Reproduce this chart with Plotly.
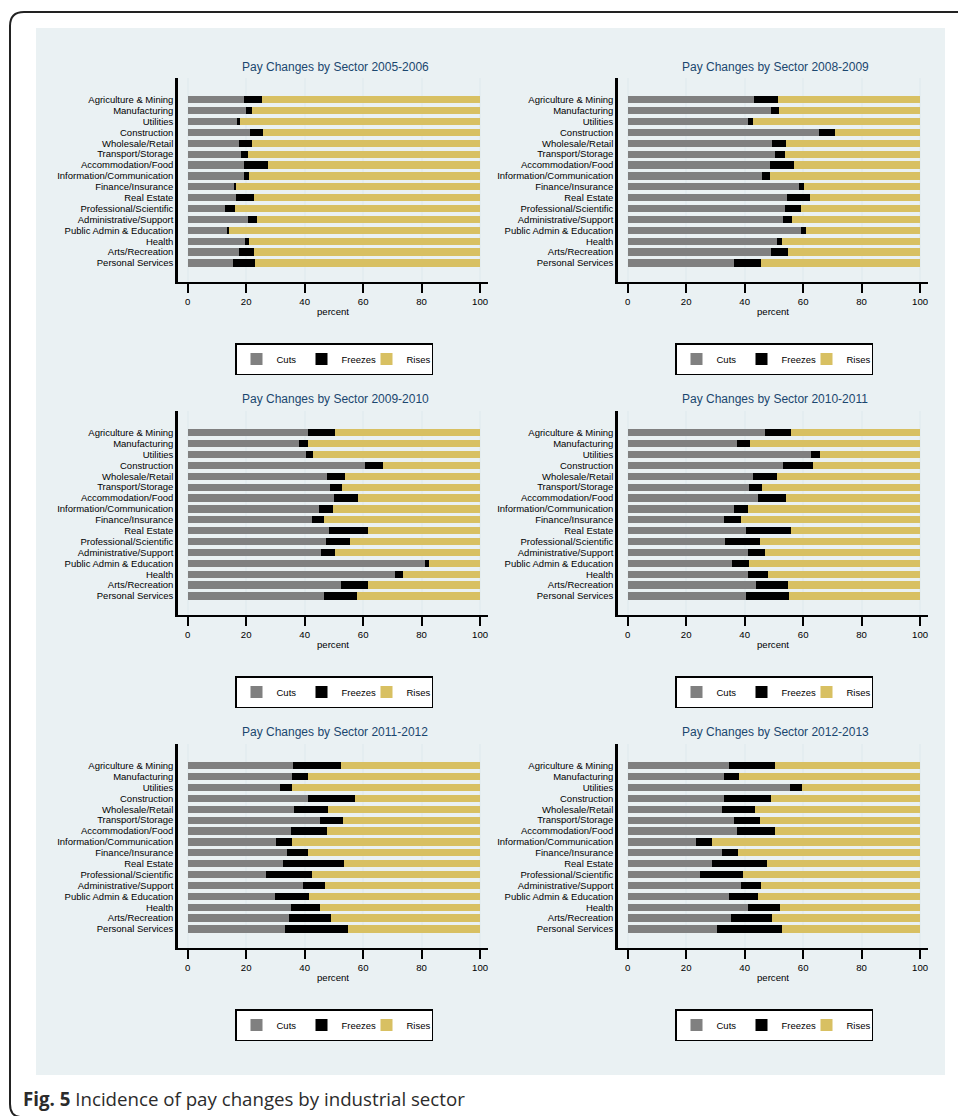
import plotly.graph_objects as go

sectors = ["Agriculture & Mining", "Manufacturing", "Utilities", "Construction",
           "Wholesale/Retail", "Transport/Storage", "Accommodation/Food",
           "Information/Communication", "Finance/Insurance", "Real Estate",
           "Professional/Scientific", "Administrative/Support",
           "Public Admin & Education", "Health", "Arts/Recreation", "Personal Services"]

periods = ["2005-2006", "2008-2009", "2009-2010", "2010-2011", "2011-2012", "2012-2013"]

cuts_2005_2006 = [19.3, 20.0, 16.8, 21.3, 17.6, 18.2, 19.3, 19.3, 15.8, 16.5, 12.8, 20.6, 13.5, 19.6, 17.6, 15.5]
freezes_2005_2006 = [6.1, 2.0, 1.1, 4.5, 4.3, 2.4, 8.2, 1.7, 0.7, 6.2, 3.4, 3.1, 0.6, 1.4, 5.1, 7.5]
rises_2005_2006 = [74.6, 78.0, 82.1, 74.2, 78.1, 79.4, 72.5, 79.0, 83.5, 77.3, 83.8, 76.3, 85.9, 79.0, 77.3, 77.0]

cuts_2008_2009 = [43.3, 49.1, 41.3, 65.5, 49.5, 50.5, 48.8, 46.1, 58.7, 54.6, 53.9, 53.2, 59.4, 50.9, 49.1, 36.5]
freezes_2008_2009 = [8.2, 2.8, 1.7, 5.5, 4.8, 3.4, 8.2, 2.7, 1.7, 7.9, 5.5, 3.1, 1.7, 2.0, 5.8, 9.2]
rises_2008_2009 = [48.5, 48.1, 57.0, 29.0, 45.7, 46.1, 43.0, 51.2, 39.6, 37.5, 40.6, 43.7, 38.9, 47.1, 45.1, 54.3]

cuts_2009_2010 = [41.2, 38.1, 40.5, 60.7, 47.7, 48.7, 50.1, 44.9, 42.5, 48.3, 47.3, 45.6, 81.2, 70.9, 52.5, 46.6]
freezes_2009_2010 = [9.2, 3.1, 2.4, 6.1, 6.1, 4.1, 8.2, 4.8, 4.1, 13.4, 8.2, 4.8, 1.4, 2.8, 9.2, 11.3]
rises_2009_2010 = [49.6, 58.8, 57.1, 33.2, 46.2, 47.2, 41.7, 50.3, 53.4, 38.3, 44.5, 49.6, 17.4, 26.3, 38.3, 42.1]

cuts_2010_2011 = [46.8, 37.5, 62.8, 53.2, 43.0, 41.6, 44.7, 36.2, 33.1, 40.3, 33.4, 41.0, 35.8, 41.3, 44.0, 40.6]
freezes_2010_2011 = [9.2, 4.5, 3.1, 10.3, 8.2, 4.5, 9.6, 5.1, 5.8, 15.7, 12.0, 5.8, 5.8, 6.8, 10.9, 14.7]
rises_2010_2011 = [44.0, 58.0, 34.1, 36.5, 48.8, 53.9, 45.7, 58.7, 61.1, 44.0, 54.6, 53.2, 58.4, 51.9, 45.1, 44.7]

cuts_2011_2012 = [36.0, 35.7, 31.6, 41.2, 36.4, 45.3, 35.3, 30.2, 34.0, 32.6, 26.8, 39.5, 29.9, 35.3, 34.7, 33.3]
freezes_2011_2012 = [16.5, 5.5, 4.1, 16.0, 11.6, 7.8, 12.4, 5.5, 7.2, 20.9, 15.7, 7.5, 11.6, 10.0, 14.3, 21.5]
rises_2011_2012 = [47.5, 58.8, 64.3, 42.8, 52.0, 46.9, 52.3, 64.3, 58.8, 46.5, 57.5, 53.0, 58.5, 54.7, 51.0, 45.2]

cuts_2012_2013 = [34.8, 33.1, 55.6, 32.8, 32.1, 36.5, 37.5, 23.2, 32.1, 28.7, 24.9, 38.9, 34.8, 41.3, 35.5, 30.4]
freezes_2012_2013 = [15.7, 5.1, 4.1, 16.3, 11.6, 8.6, 13.0, 5.5, 5.8, 19.1, 14.7, 6.8, 9.9, 10.9, 14.0, 22.5]
rises_2012_2013 = [49.5, 61.8, 40.3, 50.9, 56.3, 54.9, 49.5, 71.3, 62.1, 52.2, 60.4, 54.3, 55.3, 47.8, 50.5, 47.1]

series_names = ["Cuts", "Freezes", "Rises"]
x_ticks = [0, 20, 40, 60, 80, 100]
caption_bold = "Fig. 5"
caption_text = " Incidence of pay changes by industrial sector"

panel_data = [
    (cuts_2005_2006, freezes_2005_2006, rises_2005_2006),
    (cuts_2008_2009, freezes_2008_2009, rises_2008_2009),
    (cuts_2009_2010, freezes_2009_2010, rises_2009_2010),
    (cuts_2010_2011, freezes_2010_2011, rises_2010_2011),
    (cuts_2011_2012, freezes_2011_2012, rises_2011_2012),
    (cuts_2012_2013, freezes_2012_2013, rises_2012_2013),
]

# ---- styling / layout ----
W, H = 958, 1116
FONT = "Liberation Sans, Arial, sans-serif"
CAPTION_FONT = "Open Sans, Noto Sans, sans-serif"
COLORS = ["#808080", "#000000", "#d8c062"]
TITLE_COLOR = "#1a476f"
BG = "#eaf1f3"
GRID = "#e4edf0"


def fx(p):
    return p / W


def fy(p):
    return 1 - p / H


col_px = [(178, 488), (618, 928)]
row_px = [(78, 282), (411, 615), (744, 948)]
title_y = [67, 399, 732]
legend_y = [359, 692, 1025]

fig = go.Figure()
layout = dict(
    width=W, height=H,
    margin=dict(l=0, r=0, t=0, b=0),
    paper_bgcolor="white",
    plot_bgcolor="white",
    barmode="stack",
    bargap=0.33,
    font=dict(family=FONT, size=10, color="black"),
    shapes=[], annotations=[],
)

for i, (period, (c, f, r)) in enumerate(zip(periods, panel_data)):
    row, col = divmod(i, 2)
    n = i + 1
    xa = "x" if n == 1 else f"x{n}"
    ya = "y" if n == 1 else f"y{n}"
    lg = "legend" if n == 1 else f"legend{n}"
    for name, vals, color in zip(series_names, (c, f, r), COLORS):
        fig.add_trace(go.Bar(
            x=vals, y=sectors, orientation="h", name=name,
            marker=dict(color=color, line=dict(width=0)),
            xaxis=xa, yaxis=ya, legend=lg, showlegend=True,
        ))
    x0, x1 = col_px[col]
    y0, y1 = row_px[row]
    layout["xaxis" if n == 1 else f"xaxis{n}"] = dict(
        domain=[fx(x0), fx(x1)], anchor=ya, range=[-3.3, 102.7],
        tickvals=x_ticks, ticks="outside", ticklen=9, tickwidth=2, tickcolor="black",
        showline=True, linecolor="black", linewidth=2,
        showgrid=True, gridcolor=GRID, gridwidth=2, zeroline=False,
        tickfont=dict(size=9.6, family=FONT),
        title=dict(text="percent", font=dict(size=9.6, family=FONT), standoff=3),
        fixedrange=True,
    )
    layout["yaxis" if n == 1 else f"yaxis{n}"] = dict(
        domain=[fy(y1), fy(y0)], anchor=xa, type="category",
        categoryorder="array", categoryarray=sectors,
        tickmode="linear", tick0=0, dtick=1,
        range=[len(sectors) - 1 + 1.75, -2.0],
        showline=True, linecolor="black", linewidth=2.5,
        ticks="", showgrid=False, zeroline=False,
        tickfont=dict(size=9.5, family=FONT),
        fixedrange=True,
    )
    layout[lg] = dict(
        x=fx((x0 + x1) / 2 + 1), y=fy(legend_y[row]), xanchor="center", yanchor="middle",
        orientation="h", bgcolor="white", bordercolor="black", borderwidth=1.5,
        font=dict(size=9.5, family=FONT), itemwidth=30,
        entrywidth=20, entrywidthmode="pixels",
        traceorder="normal", itemclick=False, itemdoubleclick=False,
    )
    layout["annotations"].append(dict(
        text=f"Pay Changes by Sector {period}", xref="paper", yref="paper",
        x=fx((x0 + x1) / 2 + 2), y=fy(title_y[row]), xanchor="center", yanchor="middle",
        showarrow=False, font=dict(size=12, color=TITLE_COLOR, family=FONT),
    ))

# background graph region and outer rounded frame
layout["shapes"].append(dict(
    type="rect", xref="paper", yref="paper", layer="below",
    x0=fx(36), x1=fx(945), y0=fy(1075), y1=fy(28),
    fillcolor=BG, line=dict(width=0),
))
frame = (f"M {fx(958)},{fy(12)} L {fx(24)},{fy(12)} Q {fx(10)},{fy(12)} {fx(10)},{fy(26)} "
         f"L {fx(10)},{fy(1104)} Q {fx(10)},{fy(1116)} {fx(20)},{fy(1117)}")
layout["shapes"].append(dict(
    type="path", xref="paper", yref="paper", path=frame,
    line=dict(color="#222222", width=2),
))

layout["annotations"].append(dict(
    text=f"<b>{caption_bold}</b>{caption_text}", xref="paper", yref="paper",
    x=fx(21), y=fy(1098), xanchor="left", yanchor="middle", showarrow=False,
    font=dict(size=18.7, color="#2b2b2b", family=CAPTION_FONT),
))

fig.update_layout(**layout)
fig.write_html("out.html", config={"displayModeBar": False},
               post_script="document.body.style.margin='0px';document.body.style.overflow='hidden';")
